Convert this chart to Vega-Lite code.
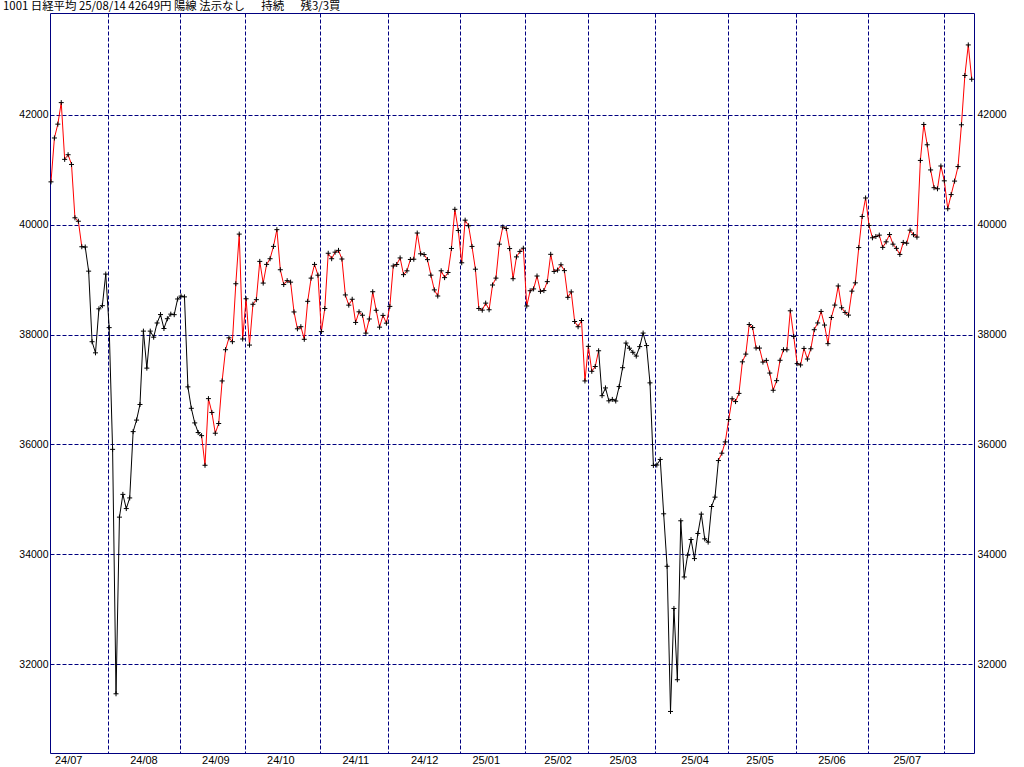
{
  "$schema": "https://vega.github.io/schema/vega-lite/v6.json",
  "width": 924,
  "height": 740,
  "autosize": "none",
  "padding": {"left": 50, "top": 13, "right": 50, "bottom": 14},
  "background": "#ffffff",
  "title": {
    "text": "1001 日経平均 25/08/14 42649円 陽線 法示なし\u3000\u00a0 持続\u3000\u00a0 残3/3買",
    "anchor": "start",
    "frame": "group",
    "dx": -47,
    "dy": 10,
    "offset": 2,
    "baseline": "alphabetic",
    "font": "Noto Sans CJK JP",
    "fontSize": 11.4,
    "fontWeight": "normal",
    "color": "#000000"
  },
  "config": {
    "view": {"stroke": "#000080", "strokeWidth": 1},
    "axis": {"labelColor": "#000000", "labelFont": "Liberation Sans", "domain": false, "ticks": false, "title": null}
  },
  "datasets": {
    "nk": [
      {"i":0,"d":"2024-07-08","c":40780.70,"s":"買"},
      {"i":1,"d":"2024-07-09","c":41580.17,"s":"買"},
      {"i":2,"d":"2024-07-10","c":41831.99,"s":"買"},
      {"i":3,"d":"2024-07-11","c":42224.02,"s":"買"},
      {"i":4,"d":"2024-07-12","c":41190.68,"s":"買"},
      {"i":5,"d":"2024-07-16","c":41275.08,"s":"買"},
      {"i":6,"d":"2024-07-17","c":41097.69,"s":"買"},
      {"i":7,"d":"2024-07-18","c":40126.35,"s":"買"},
      {"i":8,"d":"2024-07-19","c":40063.79,"s":"買"},
      {"i":9,"d":"2024-07-22","c":39599.00,"s":"買"},
      {"i":10,"d":"2024-07-23","c":39594.39,"s":"売"},
      {"i":11,"d":"2024-07-24","c":39154.85,"s":"売"},
      {"i":12,"d":"2024-07-25","c":37869.51,"s":"売"},
      {"i":13,"d":"2024-07-26","c":37667.41,"s":"売"},
      {"i":14,"d":"2024-07-29","c":38468.63,"s":"売"},
      {"i":15,"d":"2024-07-30","c":38525.95,"s":"売"},
      {"i":16,"d":"2024-07-31","c":39101.82,"s":"売"},
      {"i":17,"d":"2024-08-01","c":38126.33,"s":"売"},
      {"i":18,"d":"2024-08-02","c":35909.70,"s":"売"},
      {"i":19,"d":"2024-08-05","c":31458.42,"s":"売"},
      {"i":20,"d":"2024-08-06","c":34675.46,"s":"売"},
      {"i":21,"d":"2024-08-07","c":35089.62,"s":"売"},
      {"i":22,"d":"2024-08-08","c":34831.15,"s":"売"},
      {"i":23,"d":"2024-08-09","c":35025.00,"s":"売"},
      {"i":24,"d":"2024-08-13","c":36232.51,"s":"売"},
      {"i":25,"d":"2024-08-14","c":36442.43,"s":"売"},
      {"i":26,"d":"2024-08-15","c":36726.64,"s":"売"},
      {"i":27,"d":"2024-08-16","c":38062.67,"s":"売"},
      {"i":28,"d":"2024-08-19","c":37388.62,"s":"売"},
      {"i":29,"d":"2024-08-20","c":38062.92,"s":"売"},
      {"i":30,"d":"2024-08-21","c":37951.80,"s":"売"},
      {"i":31,"d":"2024-08-22","c":38211.01,"s":"売"},
      {"i":32,"d":"2024-08-23","c":38364.27,"s":"売"},
      {"i":33,"d":"2024-08-26","c":38110.22,"s":"売"},
      {"i":34,"d":"2024-08-27","c":38288.62,"s":"売"},
      {"i":35,"d":"2024-08-28","c":38371.76,"s":"売"},
      {"i":36,"d":"2024-08-29","c":38362.53,"s":"売"},
      {"i":37,"d":"2024-08-30","c":38647.75,"s":"売"},
      {"i":38,"d":"2024-09-02","c":38700.87,"s":"売"},
      {"i":39,"d":"2024-09-03","c":38686.31,"s":"売"},
      {"i":40,"d":"2024-09-04","c":37047.61,"s":"売"},
      {"i":41,"d":"2024-09-05","c":36657.09,"s":"売"},
      {"i":42,"d":"2024-09-06","c":36391.47,"s":"売"},
      {"i":43,"d":"2024-09-09","c":36215.75,"s":"売"},
      {"i":44,"d":"2024-09-10","c":36159.16,"s":"売"},
      {"i":45,"d":"2024-09-11","c":35619.77,"s":"買"},
      {"i":46,"d":"2024-09-12","c":36833.27,"s":"買"},
      {"i":47,"d":"2024-09-13","c":36581.76,"s":"買"},
      {"i":48,"d":"2024-09-17","c":36203.22,"s":"買"},
      {"i":49,"d":"2024-09-18","c":36380.17,"s":"買"},
      {"i":50,"d":"2024-09-19","c":37155.33,"s":"買"},
      {"i":51,"d":"2024-09-20","c":37723.91,"s":"買"},
      {"i":52,"d":"2024-09-24","c":37940.59,"s":"買"},
      {"i":53,"d":"2024-09-25","c":37870.26,"s":"買"},
      {"i":54,"d":"2024-09-26","c":38925.63,"s":"買"},
      {"i":55,"d":"2024-09-27","c":39829.56,"s":"買"},
      {"i":56,"d":"2024-09-30","c":37919.55,"s":"買"},
      {"i":57,"d":"2024-10-01","c":38651.97,"s":"買"},
      {"i":58,"d":"2024-10-02","c":37808.76,"s":"買"},
      {"i":59,"d":"2024-10-03","c":38552.06,"s":"買"},
      {"i":60,"d":"2024-10-04","c":38635.62,"s":"買"},
      {"i":61,"d":"2024-10-07","c":39332.74,"s":"買"},
      {"i":62,"d":"2024-10-08","c":38937.54,"s":"買"},
      {"i":63,"d":"2024-10-09","c":39277.96,"s":"買"},
      {"i":64,"d":"2024-10-10","c":39380.89,"s":"買"},
      {"i":65,"d":"2024-10-11","c":39605.80,"s":"買"},
      {"i":66,"d":"2024-10-15","c":39910.55,"s":"買"},
      {"i":67,"d":"2024-10-16","c":39180.30,"s":"買"},
      {"i":68,"d":"2024-10-17","c":38911.19,"s":"買"},
      {"i":69,"d":"2024-10-18","c":38981.75,"s":"買"},
      {"i":70,"d":"2024-10-21","c":38954.60,"s":"買"},
      {"i":71,"d":"2024-10-22","c":38411.96,"s":"買"},
      {"i":72,"d":"2024-10-23","c":38104.86,"s":"買"},
      {"i":73,"d":"2024-10-24","c":38143.29,"s":"買"},
      {"i":74,"d":"2024-10-25","c":37913.92,"s":"買"},
      {"i":75,"d":"2024-10-28","c":38605.53,"s":"買"},
      {"i":76,"d":"2024-10-29","c":39027.98,"s":"買"},
      {"i":77,"d":"2024-10-30","c":39277.39,"s":"買"},
      {"i":78,"d":"2024-10-31","c":39081.25,"s":"買"},
      {"i":79,"d":"2024-11-01","c":38053.67,"s":"買"},
      {"i":80,"d":"2024-11-05","c":38474.90,"s":"買"},
      {"i":81,"d":"2024-11-06","c":39480.67,"s":"買"},
      {"i":82,"d":"2024-11-07","c":39381.41,"s":"買"},
      {"i":83,"d":"2024-11-08","c":39500.37,"s":"買"},
      {"i":84,"d":"2024-11-11","c":39533.32,"s":"買"},
      {"i":85,"d":"2024-11-12","c":39376.09,"s":"買"},
      {"i":86,"d":"2024-11-13","c":38721.66,"s":"買"},
      {"i":87,"d":"2024-11-14","c":38535.70,"s":"買"},
      {"i":88,"d":"2024-11-15","c":38642.91,"s":"買"},
      {"i":89,"d":"2024-11-18","c":38220.85,"s":"買"},
      {"i":90,"d":"2024-11-19","c":38414.43,"s":"買"},
      {"i":91,"d":"2024-11-20","c":38352.34,"s":"買"},
      {"i":92,"d":"2024-11-21","c":38026.17,"s":"買"},
      {"i":93,"d":"2024-11-22","c":38283.85,"s":"買"},
      {"i":94,"d":"2024-11-25","c":38780.14,"s":"買"},
      {"i":95,"d":"2024-11-26","c":38442.00,"s":"買"},
      {"i":96,"d":"2024-11-27","c":38134.97,"s":"買"},
      {"i":97,"d":"2024-11-28","c":38349.06,"s":"買"},
      {"i":98,"d":"2024-11-29","c":38208.03,"s":"買"},
      {"i":99,"d":"2024-12-02","c":38513.02,"s":"買"},
      {"i":100,"d":"2024-12-03","c":39248.86,"s":"買"},
      {"i":101,"d":"2024-12-04","c":39276.39,"s":"買"},
      {"i":102,"d":"2024-12-05","c":39395.60,"s":"買"},
      {"i":103,"d":"2024-12-06","c":39091.17,"s":"買"},
      {"i":104,"d":"2024-12-09","c":39160.50,"s":"買"},
      {"i":105,"d":"2024-12-10","c":39367.58,"s":"買"},
      {"i":106,"d":"2024-12-11","c":39372.23,"s":"買"},
      {"i":107,"d":"2024-12-12","c":39849.14,"s":"買"},
      {"i":108,"d":"2024-12-13","c":39470.44,"s":"買"},
      {"i":109,"d":"2024-12-16","c":39457.49,"s":"買"},
      {"i":110,"d":"2024-12-17","c":39364.68,"s":"買"},
      {"i":111,"d":"2024-12-18","c":39081.71,"s":"買"},
      {"i":112,"d":"2024-12-19","c":38813.58,"s":"買"},
      {"i":113,"d":"2024-12-20","c":38701.90,"s":"買"},
      {"i":114,"d":"2024-12-23","c":39161.34,"s":"買"},
      {"i":115,"d":"2024-12-24","c":39036.85,"s":"買"},
      {"i":116,"d":"2024-12-25","c":39130.43,"s":"買"},
      {"i":117,"d":"2024-12-26","c":39568.06,"s":"買"},
      {"i":118,"d":"2024-12-27","c":40281.16,"s":"買"},
      {"i":119,"d":"2024-12-30","c":39894.54,"s":"買"},
      {"i":120,"d":"2025-01-06","c":39307.05,"s":"買"},
      {"i":121,"d":"2025-01-07","c":40083.30,"s":"買"},
      {"i":122,"d":"2025-01-08","c":39981.06,"s":"買"},
      {"i":123,"d":"2025-01-09","c":39605.09,"s":"買"},
      {"i":124,"d":"2025-01-10","c":39190.40,"s":"買"},
      {"i":125,"d":"2025-01-14","c":38474.30,"s":"買"},
      {"i":126,"d":"2025-01-15","c":38444.58,"s":"買"},
      {"i":127,"d":"2025-01-16","c":38572.60,"s":"買"},
      {"i":128,"d":"2025-01-17","c":38451.46,"s":"買"},
      {"i":129,"d":"2025-01-20","c":38902.50,"s":"買"},
      {"i":130,"d":"2025-01-21","c":39027.98,"s":"買"},
      {"i":131,"d":"2025-01-22","c":39646.25,"s":"買"},
      {"i":132,"d":"2025-01-23","c":39958.87,"s":"買"},
      {"i":133,"d":"2025-01-24","c":39931.98,"s":"買"},
      {"i":134,"d":"2025-01-27","c":39565.80,"s":"買"},
      {"i":135,"d":"2025-01-28","c":39016.87,"s":"買"},
      {"i":136,"d":"2025-01-29","c":39414.78,"s":"買"},
      {"i":137,"d":"2025-01-30","c":39513.97,"s":"買"},
      {"i":138,"d":"2025-01-31","c":39572.49,"s":"買"},
      {"i":139,"d":"2025-02-03","c":38520.09,"s":"買"},
      {"i":140,"d":"2025-02-04","c":38798.37,"s":"買"},
      {"i":141,"d":"2025-02-05","c":38831.48,"s":"買"},
      {"i":142,"d":"2025-02-06","c":39066.53,"s":"買"},
      {"i":143,"d":"2025-02-07","c":38787.02,"s":"買"},
      {"i":144,"d":"2025-02-10","c":38801.17,"s":"買"},
      {"i":145,"d":"2025-02-12","c":38963.70,"s":"買"},
      {"i":146,"d":"2025-02-13","c":39461.47,"s":"買"},
      {"i":147,"d":"2025-02-14","c":39149.43,"s":"買"},
      {"i":148,"d":"2025-02-17","c":39174.25,"s":"買"},
      {"i":149,"d":"2025-02-18","c":39270.40,"s":"買"},
      {"i":150,"d":"2025-02-19","c":39164.61,"s":"買"},
      {"i":151,"d":"2025-02-20","c":38678.04,"s":"買"},
      {"i":152,"d":"2025-02-21","c":38776.94,"s":"買"},
      {"i":153,"d":"2025-02-25","c":38237.79,"s":"買"},
      {"i":154,"d":"2025-02-26","c":38142.37,"s":"買"},
      {"i":155,"d":"2025-02-27","c":38256.17,"s":"買"},
      {"i":156,"d":"2025-02-28","c":37155.50,"s":"買"},
      {"i":157,"d":"2025-03-03","c":37785.47,"s":"買"},
      {"i":158,"d":"2025-03-04","c":37331.18,"s":"買"},
      {"i":159,"d":"2025-03-05","c":37418.24,"s":"買"},
      {"i":160,"d":"2025-03-06","c":37704.93,"s":"買"},
      {"i":161,"d":"2025-03-07","c":36887.17,"s":"売"},
      {"i":162,"d":"2025-03-10","c":37028.27,"s":"売"},
      {"i":163,"d":"2025-03-11","c":36793.11,"s":"売"},
      {"i":164,"d":"2025-03-12","c":36819.09,"s":"売"},
      {"i":165,"d":"2025-03-13","c":36790.03,"s":"売"},
      {"i":166,"d":"2025-03-14","c":37053.10,"s":"売"},
      {"i":167,"d":"2025-03-17","c":37396.52,"s":"売"},
      {"i":168,"d":"2025-03-18","c":37845.42,"s":"売"},
      {"i":169,"d":"2025-03-19","c":37751.88,"s":"売"},
      {"i":170,"d":"2025-03-21","c":37677.06,"s":"売"},
      {"i":171,"d":"2025-03-24","c":37608.49,"s":"売"},
      {"i":172,"d":"2025-03-25","c":37780.54,"s":"売"},
      {"i":173,"d":"2025-03-26","c":38027.29,"s":"売"},
      {"i":174,"d":"2025-03-27","c":37799.97,"s":"売"},
      {"i":175,"d":"2025-03-28","c":37120.33,"s":"売"},
      {"i":176,"d":"2025-03-31","c":35617.56,"s":"売"},
      {"i":177,"d":"2025-04-01","c":35624.48,"s":"売"},
      {"i":178,"d":"2025-04-02","c":35725.87,"s":"売"},
      {"i":179,"d":"2025-04-03","c":34735.93,"s":"売"},
      {"i":180,"d":"2025-04-04","c":33780.58,"s":"売"},
      {"i":181,"d":"2025-04-07","c":31136.58,"s":"売"},
      {"i":182,"d":"2025-04-08","c":33012.58,"s":"売"},
      {"i":183,"d":"2025-04-09","c":31714.03,"s":"売"},
      {"i":184,"d":"2025-04-10","c":34609.00,"s":"売"},
      {"i":185,"d":"2025-04-11","c":33585.58,"s":"売"},
      {"i":186,"d":"2025-04-14","c":33982.36,"s":"売"},
      {"i":187,"d":"2025-04-15","c":34267.54,"s":"売"},
      {"i":188,"d":"2025-04-16","c":33920.40,"s":"売"},
      {"i":189,"d":"2025-04-17","c":34377.60,"s":"売"},
      {"i":190,"d":"2025-04-18","c":34730.28,"s":"売"},
      {"i":191,"d":"2025-04-21","c":34279.92,"s":"売"},
      {"i":192,"d":"2025-04-22","c":34220.60,"s":"売"},
      {"i":193,"d":"2025-04-23","c":34868.63,"s":"売"},
      {"i":194,"d":"2025-04-24","c":35039.15,"s":"売"},
      {"i":195,"d":"2025-04-25","c":35705.74,"s":"売"},
      {"i":196,"d":"2025-04-28","c":35839.99,"s":"買"},
      {"i":197,"d":"2025-04-30","c":36045.38,"s":"買"},
      {"i":198,"d":"2025-05-01","c":36452.30,"s":"買"},
      {"i":199,"d":"2025-05-02","c":36830.69,"s":"買"},
      {"i":200,"d":"2025-05-07","c":36779.66,"s":"買"},
      {"i":201,"d":"2025-05-08","c":36928.63,"s":"買"},
      {"i":202,"d":"2025-05-09","c":37503.33,"s":"買"},
      {"i":203,"d":"2025-05-12","c":37644.26,"s":"買"},
      {"i":204,"d":"2025-05-13","c":38183.26,"s":"買"},
      {"i":205,"d":"2025-05-14","c":38128.13,"s":"買"},
      {"i":206,"d":"2025-05-15","c":37755.51,"s":"買"},
      {"i":207,"d":"2025-05-16","c":37753.72,"s":"買"},
      {"i":208,"d":"2025-05-19","c":37498.63,"s":"買"},
      {"i":209,"d":"2025-05-20","c":37529.49,"s":"買"},
      {"i":210,"d":"2025-05-21","c":37298.98,"s":"買"},
      {"i":211,"d":"2025-05-22","c":36985.87,"s":"買"},
      {"i":212,"d":"2025-05-23","c":37160.47,"s":"買"},
      {"i":213,"d":"2025-05-26","c":37531.53,"s":"買"},
      {"i":214,"d":"2025-05-27","c":37724.11,"s":"買"},
      {"i":215,"d":"2025-05-28","c":37722.40,"s":"買"},
      {"i":216,"d":"2025-05-29","c":38432.98,"s":"買"},
      {"i":217,"d":"2025-05-30","c":37965.10,"s":"買"},
      {"i":218,"d":"2025-06-02","c":37470.67,"s":"買"},
      {"i":219,"d":"2025-06-03","c":37446.81,"s":"買"},
      {"i":220,"d":"2025-06-04","c":37747.45,"s":"買"},
      {"i":221,"d":"2025-06-05","c":37554.49,"s":"買"},
      {"i":222,"d":"2025-06-06","c":37741.61,"s":"買"},
      {"i":223,"d":"2025-06-09","c":38088.57,"s":"買"},
      {"i":224,"d":"2025-06-10","c":38211.51,"s":"買"},
      {"i":225,"d":"2025-06-11","c":38421.19,"s":"買"},
      {"i":226,"d":"2025-06-12","c":38173.09,"s":"買"},
      {"i":227,"d":"2025-06-13","c":37834.25,"s":"買"},
      {"i":228,"d":"2025-06-16","c":38311.33,"s":"買"},
      {"i":229,"d":"2025-06-17","c":38536.74,"s":"買"},
      {"i":230,"d":"2025-06-18","c":38885.15,"s":"買"},
      {"i":231,"d":"2025-06-19","c":38488.34,"s":"買"},
      {"i":232,"d":"2025-06-20","c":38403.23,"s":"買"},
      {"i":233,"d":"2025-06-23","c":38354.09,"s":"買"},
      {"i":234,"d":"2025-06-24","c":38790.56,"s":"買"},
      {"i":235,"d":"2025-06-25","c":38942.07,"s":"買"},
      {"i":236,"d":"2025-06-26","c":39584.58,"s":"買"},
      {"i":237,"d":"2025-06-27","c":40150.79,"s":"買"},
      {"i":238,"d":"2025-06-30","c":40487.39,"s":"買"},
      {"i":239,"d":"2025-07-01","c":39986.33,"s":"買"},
      {"i":240,"d":"2025-07-02","c":39762.48,"s":"買"},
      {"i":241,"d":"2025-07-03","c":39785.90,"s":"買"},
      {"i":242,"d":"2025-07-04","c":39810.88,"s":"買"},
      {"i":243,"d":"2025-07-07","c":39587.68,"s":"買"},
      {"i":244,"d":"2025-07-08","c":39688.81,"s":"買"},
      {"i":245,"d":"2025-07-09","c":39821.28,"s":"買"},
      {"i":246,"d":"2025-07-10","c":39646.36,"s":"買"},
      {"i":247,"d":"2025-07-11","c":39569.68,"s":"買"},
      {"i":248,"d":"2025-07-14","c":39459.62,"s":"買"},
      {"i":249,"d":"2025-07-15","c":39678.02,"s":"買"},
      {"i":250,"d":"2025-07-16","c":39663.40,"s":"買"},
      {"i":251,"d":"2025-07-17","c":39901.19,"s":"買"},
      {"i":252,"d":"2025-07-18","c":39819.11,"s":"買"},
      {"i":253,"d":"2025-07-22","c":39774.92,"s":"買"},
      {"i":254,"d":"2025-07-23","c":41171.32,"s":"買"},
      {"i":255,"d":"2025-07-24","c":41826.34,"s":"買"},
      {"i":256,"d":"2025-07-25","c":41456.23,"s":"買"},
      {"i":257,"d":"2025-07-28","c":40998.27,"s":"買"},
      {"i":258,"d":"2025-07-29","c":40674.55,"s":"買"},
      {"i":259,"d":"2025-07-30","c":40654.70,"s":"買"},
      {"i":260,"d":"2025-07-31","c":41069.82,"s":"買"},
      {"i":261,"d":"2025-08-01","c":40799.60,"s":"買"},
      {"i":262,"d":"2025-08-04","c":40290.70,"s":"買"},
      {"i":263,"d":"2025-08-05","c":40549.54,"s":"買"},
      {"i":264,"d":"2025-08-06","c":40794.86,"s":"買"},
      {"i":265,"d":"2025-08-07","c":41059.15,"s":"買"},
      {"i":266,"d":"2025-08-08","c":41820.48,"s":"買"},
      {"i":267,"d":"2025-08-12","c":42718.17,"s":"買"},
      {"i":268,"d":"2025-08-13","c":43274.67,"s":"買"},
      {"i":269,"d":"2025-08-14","c":42649.26,"s":"買"}
    ]
  },
  "data": {"name": "nk"},
  "resolve": {"axis": {"x": "independent", "y": "independent"}},
  "layer": [
    {
      "transform": [
        {"window": [{"op": "lag", "field": "c", "as": "pc"}, {"op": "lag", "field": "i", "as": "pi"}], "sort": [{"field": "i"}]},
        {"filter": "datum.pi != null"}
      ],
      "mark": {"type": "rule", "strokeWidth": 1},
      "encoding": {
        "x": {"field": "pi", "type": "quantitative",
          "scale": {"domain": [-0.29, 269.67], "nice": false, "zero": false},
          "axis": {"orient": "bottom", "values": [16.7, 37.7, 56.7, 78.6, 98.5, 119.5, 138.6, 156.8, 176.5, 197.7, 217.7, 238.6, 260.8],
            "grid": true, "gridColor": "#000080", "gridDash": [4, 2], "gridWidth": 1, "gridOpacity": 1,
            "labels": false, "ticks": false, "domain": false, "title": null}},
        "x2": {"field": "i"},
        "y": {"field": "pc", "type": "quantitative",
          "scale": {"domain": [30380, 43856], "nice": false, "zero": false},
          "axis": {"orient": "left", "values": [32000, 34000, 36000, 38000, 40000, 42000], "format": "d",
            "grid": true, "gridColor": "#000080", "gridDash": [4, 2], "gridWidth": 1, "gridOpacity": 1,
            "labelPadding": 2, "labelFontSize": 10.5, "labelFont": "Liberation Sans", "title": null}},
        "y2": {"field": "c"},
        "color": {"field": "s", "type": "nominal",
          "scale": {"domain": ["買", "売"], "range": ["#ff0000", "#000000"]}, "legend": null}
      }
    },
    {
      "mark": {"type": "point", "shape": "M-1,0H1M0,-1V1", "filled": false, "size": 25, "stroke": "#000000", "strokeWidth": 1, "opacity": 1},
      "encoding": {
        "x": {"field": "i", "type": "quantitative",
          "axis": {"orient": "bottom", "values": [1, 23, 44, 63, 85, 105, 123, 144, 163, 184, 203, 224, 246],
            "labelExpr": "['24/07','24/08','24/09','24/10','24/11','24/12','25/01','25/02','25/03','25/04','25/05','25/06','25/07'][indexof([1, 23, 44, 63, 85, 105, 123, 144, 163, 184, 203, 224, 246], datum.value)]",
            "grid": false, "ticks": false, "domain": false, "labelAlign": "left", "labelBaseline": "top",
            "labelPadding": 1, "labelFontSize": 11, "labelFont": "Liberation Sans", "labelOverlap": false, "labelBound": false, "title": null}},
        "y": {"field": "c", "type": "quantitative",
          "axis": {"orient": "right", "values": [32000, 34000, 36000, 38000, 40000, 42000], "format": "d",
            "grid": false, "labelPadding": 3, "labelFontSize": 10.5, "labelFont": "Liberation Sans", "title": null}}
      }
    }
  ]
}
